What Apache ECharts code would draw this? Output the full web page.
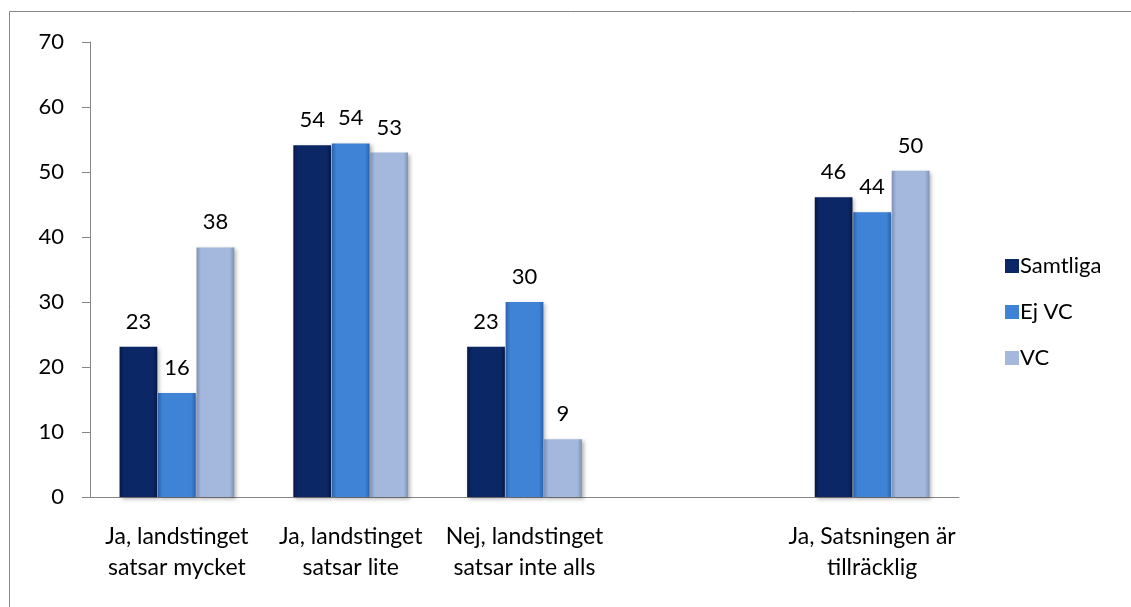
<!DOCTYPE html>
<html>
<head>
<meta charset="utf-8">
<script src="https://cdn.jsdelivr.net/npm/echarts@6/dist/echarts.min.js"></script>
<style>
html,body{margin:0;padding:0;background:#fff;}
#main{width:1131px;height:607px;}
</style>
</head>
<body>
<div id="main"></div>
<script>
// kategorier (den fjärde är tom i originalet)
var categories = [
	'Ja, landstinget\nsatsar mycket',
	'Ja, landstinget\nsatsar lite',
	'Nej, landstinget\nsatsar inte alls',
	'',
	'Ja, Satsningen är\ntillräcklig'
];
var seriesNames = ['Samtliga', 'Ej VC', 'VC'];
var samtliga = [23.1, 54.1, 23.1, '-', 46.1];
var ejVC = [16, 54.4, 30, '-', 43.8];
var vc = [38.4, 53, 8.9, '-', 50.2];
var yTicks = { min: 0, max: 70, interval: 10 };

var fontFam = 'Lato, "Open Sans", sans-serif';
var fs = 22;

// kant-mörk -> mitt -> kant-mörk, ger lite "fasad" look
function grad(edge, mid) {
	return new echarts.graphic.LinearGradient(0, 0, 1, 0, [
		{ offset: 0, color: edge },
		{ offset: 0.12, color: mid },
		{ offset: 0.88, color: mid },
		{ offset: 1, color: edge }
	]);
}
var colors = [
	grad('#061845', '#0c2766'),
	grad('#2b62ad', '#3e83d5'),
	grad('#7d90b6', '#a4b8dd')
];
var legendColors = ['#0c2766', '#3e83d5', '#a4b8dd'];

function bar(name, data, idx) {
	return {
		name: name,
		type: 'bar',
		data: data,
		barGap: '2%',
		barCategoryGap: '34%',
		itemStyle: {
			color: colors[idx],
			shadowColor: 'rgba(0,0,0,0.3)',
			shadowBlur: 4,
			shadowOffsetX: 2,
			shadowOffsetY: 2
		},
		label: {
			show: true,
			position: 'top',
			distance: 14,
			color: '#000',
			fontSize: fs,
			fontFamily: fontFam,
			formatter: function(p) { return Math.round(p.value); }
		}
	};
}

var myChart = echarts.init(document.getElementById('main'));
var option = {
	animation: false,
	color: legendColors,
	graphic: [
		{ type: 'line', shape: { x1: 9.5, y1: 11.5, x2: 1131, y2: 11.5 }, style: { stroke: '#868686', lineWidth: 1 } },
		{ type: 'line', shape: { x1: 9.5, y1: 11.5, x2: 9.5, y2: 607 }, style: { stroke: '#868686', lineWidth: 1 } }
	],
	grid: { left: 90, right: 172, top: 42, bottom: 110 },
	legend: {
		orient: 'vertical',
		left: 1000,
		top: 250,
		itemWidth: 14,
		itemHeight: 14,
		itemGap: 24,
		textStyle: { fontSize: fs, fontFamily: fontFam, color: '#000', padding: [0, 0, 0, -4] },
		data: seriesNames.map(function(n, i) {
			return { name: n, icon: 'rect', itemStyle: { color: legendColors[i] } };
		})
	},
	xAxis: {
		type: 'category',
		data: categories,
		axisLine: { lineStyle: { color: '#868686' } },
		axisTick: { show: false },
		axisLabel: {
			interval: 0,
			margin: 24,
			fontSize: 23,
			lineHeight: 31,
			color: '#000',
			fontFamily: fontFam
		}
	},
	yAxis: {
		type: 'value',
		min: yTicks.min,
		max: yTicks.max,
		interval: yTicks.interval,
		axisLine: { show: true, lineStyle: { color: '#868686' } },
		axisTick: { show: true, length: 8, lineStyle: { color: '#868686' } },
		splitLine: { show: false },
		axisLabel: { fontSize: fs, color: '#000', margin: 26, fontFamily: fontFam }
	},
	series: [
		bar(seriesNames[0], samtliga, 0),
		bar(seriesNames[1], ejVC, 1),
		bar(seriesNames[2], vc, 2)
	]
};
myChart.setOption(option);
</script>
</body>
</html>
